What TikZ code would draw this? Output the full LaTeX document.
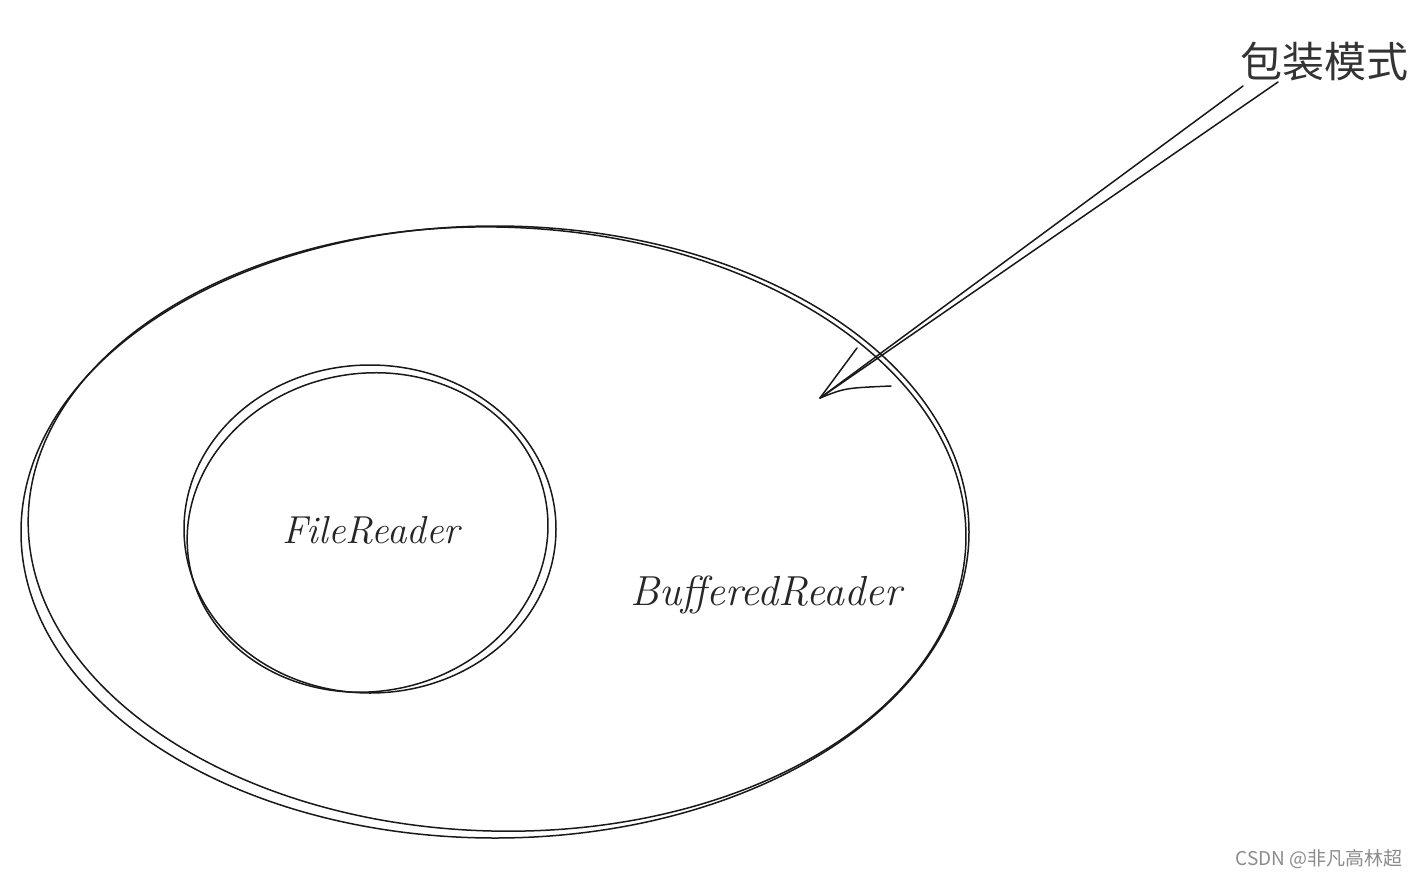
\documentclass[tikz,border=0pt]{standalone}
\usepackage{fontspec}
\newfontfamily\cjk{Noto Sans CJK SC}
\newfontfamily\wmfont{Noto Sans CJK SC}
\begin{document}
\begin{tikzpicture}[x=1pt,y=-1pt,
  sk/.style={draw=black!90, line width=1.5pt, line cap=round, line join=round},
  handlabel/.style={inner sep=0pt, text=black!85, font=\itshape},
  wmark/.style={inner sep=0pt, text=black!45, font=\wmfont\fontsize{19}{21}\selectfont}]
\useasboundingbox (0,0) rectangle (1419,878);
\fill[white] (0,0) rectangle (1419,878);
% outer ellipse (BufferedReader), two rough strokes
\draw[sk] (495,532) ellipse[x radius=474, y radius=306];
\draw[sk, rotate around={-1.5:(495,532)}] (497,529) ellipse[x radius=469, y radius=302];
% inner circle (FileReader), two rough strokes
\draw[sk] (370,529) ellipse[x radius=186, y radius=164];
\draw[sk, rotate around={10:(370,529)}] (367,532) ellipse[x radius=181, y radius=159];
% labels
\node[handlabel, font=\itshape\fontsize{39}{41}\selectfont] (fr) at (371,530) {FileReader};
\node[handlabel, font=\itshape\fontsize{42}{44}\selectfont] (br) at (766,595) {BufferedReader};
\node[inner sep=0pt, text=black!80, font=\cjk\fontsize{42}{44}\selectfont] (wz) at (1324,62) {包装模式};
\node[wmark] (wm) at (1319,859) {CSDN @非凡高林超};
% arrow (double hand-drawn shaft)
\coordinate (s1) at (1243,86);
\coordinate (s2) at (1278,82);
\coordinate (tip) at (820,398);
\coordinate (b1) at (857,348);
\coordinate (b2) at (891,386);
\draw[sk] (s1) -- (tip);
\draw[sk] (s2) -- (tip);
\draw[sk] (tip) -- (b1);
\draw[sk] (tip) .. controls (845,388) .. (b2);
\end{tikzpicture}
\end{document}
